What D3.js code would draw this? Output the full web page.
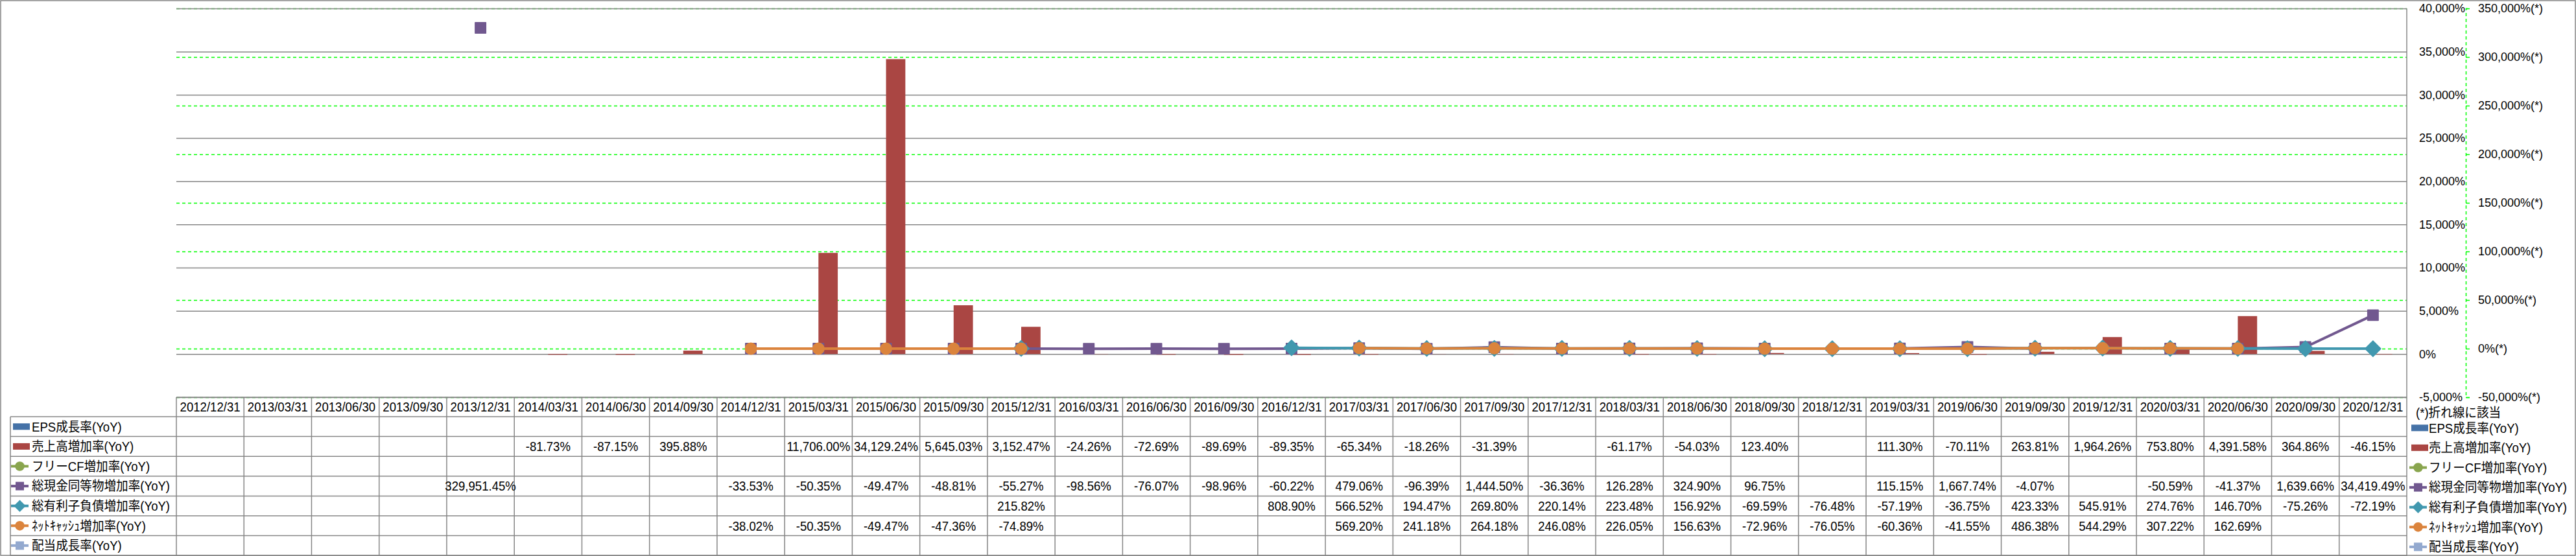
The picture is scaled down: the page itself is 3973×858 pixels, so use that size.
<!DOCTYPE html>
<html>
<head>
<meta charset="utf-8">
<script src="https://cdn.jsdelivr.net/npm/d3@7"></script>
<style>
  body { margin: 0; background: #fff; }
  text { font-family: "Liberation Sans", "Noto Sans CJK JP", sans-serif; fill: #000; }
</style>
</head>
<body>
<div id="app"></div>
<script>
const dates = [
  "2012/12/31", "2013/03/31", "2013/06/30", "2013/09/30", "2013/12/31",
  "2014/03/31", "2014/06/30", "2014/09/30", "2014/12/31",
  "2015/03/31", "2015/06/30", "2015/09/30", "2015/12/31",
  "2016/03/31", "2016/06/30", "2016/09/30", "2016/12/31",
  "2017/03/31", "2017/06/30", "2017/09/30", "2017/12/31",
  "2018/03/31", "2018/06/30", "2018/09/30", "2018/12/31",
  "2019/03/31", "2019/06/30", "2019/09/30", "2019/12/31",
  "2020/03/31", "2020/06/30", "2020/09/30", "2020/12/31"
];

const _ = null;
const epsGrowth = [_, _, _, _, _, _, _, _, _, _, _, _, _, _, _, _, _, _, _, _, _, _, _, _, _, _, _, _, _, _, _, _, _];
const salesGrowth = [_, _, _, _, _, -81.73, -87.15, 395.88, _, 11706.00, 34129.24, 5645.03, 3152.47,
  -24.26, -72.69, -89.69, -89.35, -65.34, -18.26, -31.39, _, -61.17, -54.03, 123.40, _,
  111.30, -70.11, 263.81, 1964.26, 753.80, 4391.58, 364.86, -46.15];
const freeCfGrowth = [_, _, _, _, _, _, _, _, _, _, _, _, _, _, _, _, _, _, _, _, _, _, _, _, _, _, _, _, _, _, _, _, _];
const cashGrowth = [_, _, _, _, 329951.45, _, _, _, -33.53, -50.35, -49.47, -48.81, -55.27,
  -98.56, -76.07, -98.96, -60.22, 479.06, -96.39, 1444.50, -36.36, 126.28, 324.90, 96.75, _,
  115.15, 1667.74, -4.07, _, -50.59, -41.37, 1639.66, 34419.49];
const debtGrowth = [_, _, _, _, _, _, _, _, _, _, _, _, 215.82, _, _, _, 808.90,
  566.52, 194.47, 269.80, 220.14, 223.48, 156.92, -69.59, -76.48,
  -57.19, -36.75, 423.33, 545.91, 274.76, 146.70, -75.26, -72.19];
const netCashGrowth = [_, _, _, _, _, _, _, _, -38.02, -50.35, -49.47, -47.36, -74.89,
  _, _, _, _, 569.20, 241.18, 264.18, 246.08, 226.05, 156.63, -72.96, -76.05,
  -60.36, -41.55, 486.38, 544.29, 307.22, 162.69, _, _];
const dividendGrowth = [_, _, _, _, _, _, _, _, _, _, _, _, _, _, _, _, _, _, _, _, _, _, _, _, _, _, _, _, _, _, _, _, _];

const leftTicks = [-5000, 0, 5000, 10000, 15000, 20000, 25000, 30000, 35000, 40000];
const rightTicks = [-50000, 0, 50000, 100000, 150000, 200000, 250000, 300000, 350000];

const series = [
  { name: "EPS成長率(YoY)", values: epsGrowth, type: "bar", color: "#4572A7" },
  { name: "売上高増加率(YoY)", values: salesGrowth, type: "bar", color: "#AA4643" },
  { name: "フリーCF増加率(YoY)", values: freeCfGrowth, type: "line", color: "#89A54E", marker: "circle" },
  { name: "総現金同等物増加率(YoY)", values: cashGrowth, type: "line", color: "#71588F", marker: "square" },
  { name: "総有利子負債増加率(YoY)", values: debtGrowth, type: "line", color: "#4198AF", marker: "diamond" },
  { name: "ﾈｯﾄｷｬｯｼｭ増加率(YoY)", values: netCashGrowth, type: "line", color: "#DB843D", marker: "circle" },
  { name: "配当成長率(YoY)", values: dividendGrowth, type: "line", color: "#93A9CF", marker: "square" }
];

const W = 3973, H = 858;
const plot = { left: 272, right: 3712, top: 13, bottom: 613 };
const tbl = { top: 613, headH: 30, rowH: 30.6, labelX: 16 };
const gridColor = "#868686";

const locale = d3.formatLocale({ decimal: ".", thousands: ",", grouping: [3], currency: ["", ""], minus: "-" });
const fmtInt = locale.format(",");
const fmt2 = locale.format(",.2f");

const svg = d3.select("#app").append("svg")
  .attr("width", W)
  .attr("height", H);

svg.append("rect")
  .attr("x", 1).attr("y", 1)
  .attr("width", W - 2).attr("height", H - 2)
  .attr("fill", "#fff")
  .attr("stroke", gridColor)
  .attr("stroke-width", 1.5);

const x = d3.scaleBand().domain(dates).range([plot.left, plot.right]);
const yL = d3.scaleLinear().domain([-5000, 40000]).range([plot.bottom, plot.top]);
const yR = d3.scaleLinear().domain([-50000, 350000]).range([plot.bottom, plot.top]);

const barSeries = series.filter(s => s.type === "bar");
const groupW = x.bandwidth() * barSeries.length / (barSeries.length + 1.5);
const xb = d3.scaleBand().domain(barSeries.map(s => s.name)).range([0, groupW]);
const groupOff = (x.bandwidth() - groupW) / 2;

// green dashed grid (right axis)
svg.append("g")
  .attr("transform", `translate(${plot.left},0)`)
  .call(d3.axisLeft(yR).tickValues(rightTicks).tickSize(-(plot.right - plot.left)).tickFormat(""))
  .call(g => g.select(".domain").remove())
  .selectAll("line")
  .attr("stroke", "#00FF00")
  .attr("stroke-width", 1.5)
  .attr("stroke-dasharray", "5,4");

// gray grid (left axis)
svg.append("g")
  .attr("transform", `translate(${plot.left},0)`)
  .call(d3.axisLeft(yL).tickValues(leftTicks).tickSize(-(plot.right - plot.left)).tickFormat(""))
  .call(g => g.select(".domain").remove())
  .selectAll("line")
  .attr("stroke", gridColor)
  .attr("stroke-width", 1.5);

// left-axis labels (shown on the right side)
svg.append("g")
  .attr("transform", `translate(3731,0)`)
  .call(d3.axisRight(yL).tickValues(leftTicks).tickSize(0).tickPadding(0)
    .tickFormat(d => fmtInt(d) + "%"))
  .call(g => g.select(".domain").remove())
  .selectAll("text")
  .style("font-size", "18px")
  .style("font-family", "Liberation Sans, sans-serif")
  .attr("fill", d => d < 0 ? "#FF0000" : "#000");

// right axis
svg.append("g")
  .attr("transform", `translate(3803,0)`)
  .call(d3.axisRight(yR).tickValues(rightTicks).tickSize(6).tickPadding(13)
    .tickFormat(d => fmtInt(d) + "%(*)"))
  .call(g => g.select(".domain").attr("stroke", "#00FF00").attr("stroke-width", 1.5).attr("stroke-dasharray", "5,4"))
  .call(g => g.selectAll("line").attr("stroke", "#00FF00").attr("stroke-width", 1.5))
  .selectAll("text")
  .style("font-size", "18px")
  .style("font-family", "Liberation Sans, sans-serif")
  .attr("fill", d => d < 0 ? "#FF0000" : "#000");

// bars
barSeries.forEach(s => {
  const pts = dates.map((d, j) => ({ d, v: s.values[j] })).filter(p => p.v != null);
  svg.append("g").selectAll("rect")
    .data(pts)
    .join("rect")
    .attr("x", p => x(p.d) + groupOff + xb(s.name))
    .attr("width", xb.bandwidth())
    .attr("y", p => yL(Math.max(0, p.v)))
    .attr("height", p => Math.abs(yL(p.v) - yL(0)))
    .attr("fill", s.color);
});

const symbolFor = (m, size) => {
  if (m === "circle") return d3.symbol().type(d3.symbolCircle).size(size)();
  return d3.symbol().type(d3.symbolSquare).size(size)();
};
const markerSize = { circle: 240, square: 270, diamond: 290 };

// lines
const line = d3.line()
  .defined(p => p.v != null)
  .x(p => x(p.d) + x.bandwidth() / 2)
  .y(p => yR(p.v));

series.filter(s => s.type === "line").forEach(s => {
  const pts = dates.map((d, j) => ({ d, v: s.values[j] }));
  svg.append("path")
    .datum(pts)
    .attr("d", line)
    .attr("fill", "none")
    .attr("stroke", s.color)
    .attr("stroke-width", 4);
  svg.append("g").selectAll("path")
    .data(pts.filter(p => p.v != null))
    .join("path")
    .attr("d", symbolFor(s.marker, markerSize[s.marker]))
    .attr("transform", p => `translate(${x(p.d) + x.bandwidth() / 2},${yR(p.v)})` + (s.marker === "diamond" ? " rotate(45)" : ""))
    .attr("fill", s.color)
    .attr("stroke", s.color)
    .attr("stroke-width", 1.5)
    .attr("stroke-linejoin", "round");
});

// plot right border
svg.append("line")
  .attr("x1", plot.right).attr("x2", plot.right)
  .attr("y1", plot.top).attr("y2", H)
  .attr("stroke", gridColor).attr("stroke-width", 1.5);

// data table
const fmt = v => fmt2(v) + "%";
const rowY = i => tbl.top + tbl.headH + i * tbl.rowH;
const tableG = svg.append("g");

const label = (g, tx, ty, str, anchor) => g.append("text")
  .attr("transform", `translate(${tx},${ty}) scale(0.93,1)`)
  .attr("text-anchor", anchor || "start")
  .attr("dy", "0.36em")
  .style("font-size", "20px")
  .text(str);

tableG.append("line")
  .attr("x1", plot.left).attr("x2", plot.right)
  .attr("y1", tbl.top).attr("y2", tbl.top)
  .attr("stroke", gridColor).attr("stroke-width", 1.5);

tableG.selectAll("line.row")
  .data(d3.range(series.length + 1))
  .join("line")
  .attr("class", "row")
  .attr("x1", tbl.labelX).attr("x2", plot.right)
  .attr("y1", i => rowY(i)).attr("y2", i => rowY(i))
  .attr("stroke", gridColor).attr("stroke-width", 1.5);

tableG.selectAll("line.col")
  .data(dates)
  .join("line")
  .attr("class", "col")
  .attr("x1", d => x(d)).attr("x2", d => x(d))
  .attr("y1", tbl.top).attr("y2", rowY(series.length))
  .attr("stroke", gridColor).attr("stroke-width", 1.5);

tableG.append("line")
  .attr("x1", tbl.labelX).attr("x2", tbl.labelX)
  .attr("y1", rowY(0)).attr("y2", rowY(series.length))
  .attr("stroke", gridColor).attr("stroke-width", 1.5);

dates.forEach(d => label(tableG, x(d) + x.bandwidth() / 2, tbl.top + tbl.headH / 2, d, "middle"));

const drawIcon = (g, s, x0, cy) => {
  if (s.type === "bar") {
    g.append("rect")
      .attr("x", x0 + 3).attr("y", cy - 5)
      .attr("width", 26).attr("height", 10)
      .attr("fill", s.color);
  } else {
    g.append("line")
      .attr("x1", x0).attr("x2", x0 + 27)
      .attr("y1", cy).attr("y2", cy)
      .attr("stroke", s.color).attr("stroke-width", 4);
    g.append("path")
      .attr("d", symbolFor(s.marker, 170))
      .attr("transform", `translate(${x0 + 13.5},${cy})` + (s.marker === "diamond" ? " rotate(45)" : ""))
      .attr("fill", s.color);
  }
};

series.forEach((s, i) => {
  const cy = rowY(i) + tbl.rowH / 2;
  drawIcon(tableG, s, 17, cy);
  label(tableG, 49, cy, s.name);
  dates.forEach((d, j) => {
    if (s.values[j] != null) label(tableG, x(d) + x.bandwidth() / 2, cy, fmt(s.values[j]), "middle");
  });
});

// legend on the right
const legendG = svg.append("g");
label(legendG, 3726, 637, "(*)折れ線に該当");
series.forEach((s, i) => {
  const cy = rowY(i) + tbl.rowH / 2 + 2;
  drawIcon(legendG, s, 3716, cy);
  label(legendG, 3746, cy, s.name);
});
</script>
</body>
</html>
